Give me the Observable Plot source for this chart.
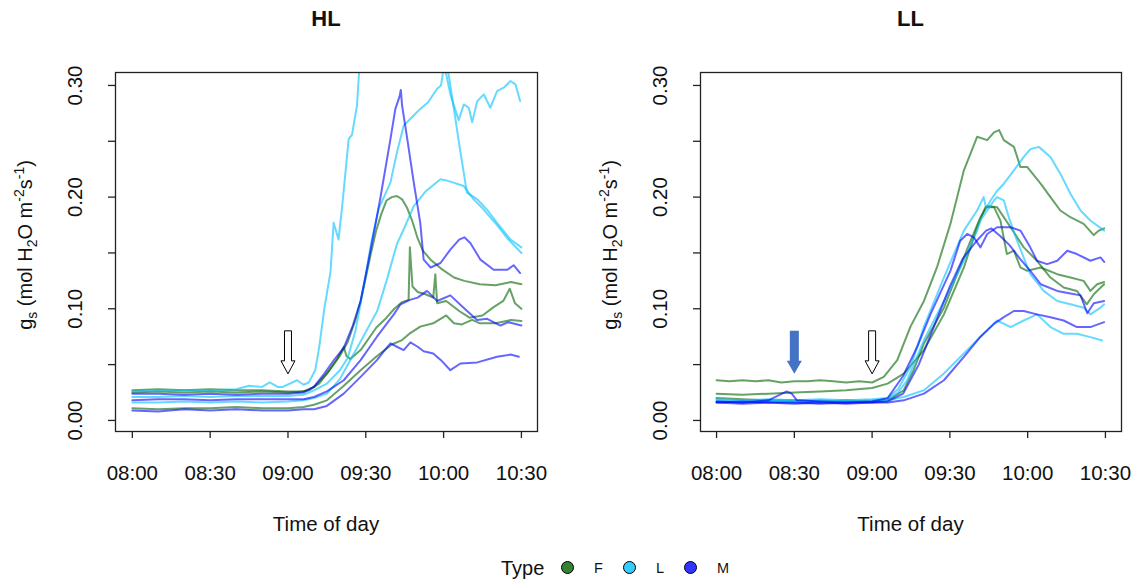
<!DOCTYPE html>
<html>
<head>
<meta charset="utf-8">
<script src="https://cdn.jsdelivr.net/npm/d3@7"></script>
<script src="https://cdn.jsdelivr.net/npm/@observablehq/plot@0.6"></script>
<style>
  html, body { margin: 0; padding: 0; background: #fff; }
  #wrap { position: relative; width: 1138px; height: 580px; font-family: 'Liberation Sans', Arial, sans-serif; color: #111; overflow: hidden; }
  .abs { position: absolute; white-space: nowrap; }
  .title { font-weight: bold; font-size: 22px; text-align: center; }
  .ylab { font-size: 20px; transform: translate(-50%, -50%) rotate(-90deg); transform-origin: center; }
  .ylab sub, .ylab sup { font-size: 14px; line-height: 0; }
  .xlab { font-size: 20.5px; text-align: center; line-height: 20px; }
  .leg { font-size: 20px; line-height: 20px; }
  .legs { font-size: 14.5px; line-height: 15px; }
  .dotk { width: 11px; height: 11px; border-radius: 50%; border: 1.5px solid #000; }
</style>
</head>
<body>
<div id="wrap"></div>
<script>
// ---------------- data (minutes after 08:00, gs value) ----------------
const panels = ["HL", "LL"];
const types = ["F", "L", "M"];
const typeColors = ["#006400", "#00bfff", "#0000ff"];
const legendColors = ["#338333", "#33ccff", "#3333ff"];
const xTickLabels = ["08:00", "08:30", "09:00", "09:30", "10:00", "10:30"];
const yTickMarks = [0, 0.05, 0.10, 0.15, 0.20, 0.25, 0.30];
const yTickLabels = [0, 0.10, 0.20, 0.30];

const HL_F1 = [[0,.027],[10,.028],[20,.027],[30,.028],[40,.027],[50,.027],[60,.026],[65,.026],[68,.027],[72,.033],[76,.045],[80,.058],[83,.07],[86,.09],[88,.107],[90,.128],[92,.15],[94,.17],[96,.185],[98,.197],[100,.2],[102,.201],[104,.198],[106,.19],[108,.178],[110,.163],[112,.152],[115,.144],[119,.136],[124,.128],[128,.125],[134,.122],[140,.121],[146,.124],[150,.122]];
const HL_F2 = [[0,.025],[10,.026],[20,.025],[30,.026],[40,.025],[50,.026],[60,.025],[66,.026],[70,.03],[75,.042],[79,.055],[81.5,.066],[82.5,.058],[84,.055],[88,.063],[94,.083],[98,.092],[101,.1],[104,.106],[106.5,.108],[107,.155],[108,.12],[110,.115],[113,.113],[116,.11],[116.8,.131],[117.5,.105],[121,.107],[126,.098],[130,.092],[135,.094],[139,.101],[143,.107],[145.5,.118],[147.5,.105],[150,.1]];
const HL_F3 = [[0,.011],[10,.01],[20,.011],[30,.011],[40,.012],[50,.011],[60,.011],[66,.012],[70,.014],[75,.018],[81,.03],[88,.045],[94,.057],[100,.068],[104,.072],[107,.078],[111,.084],[116,.087],[121,.094],[124,.087],[127,.086],[131,.09],[134,.087],[140,.087],[146,.09],[150,.089]];
const HL_L1 = [[0,.026],[10,.027],[20,.027],[30,.027],[40,.028],[45,.031],[50,.03],[53,.034],[56,.03],[58,.03],[63.5,.036],[66,.032],[68,.034],[70.5,.045],[72,.065],[74,.1],[76.4,.133],[77.6,.177],[78.5,.17],[79.5,.162],[80.9,.192],[83.4,.252],[84.7,.256],[86.6,.282],[87.5,.315],[90,.35],[100,.4],[110,.38],[118,.34],[120,.33],[122,.309],[126.5,.24],[129,.204],[133,.198],[137,.188],[140.6,.177],[145.8,.162],[150,.155]];
const HL_L2 = [[0,.021],[10,.021],[20,.022],[30,.021],[40,.022],[50,.022],[60,.022],[66,.023],[70,.027],[75,.033],[80,.045],[83,.056],[86,.08],[88,.105],[90,.13],[92,.158],[95,.19],[97,.2],[99.5,.213],[102,.24],[104.6,.264],[108,.272],[111,.279],[114,.285],[117.5,.297],[119,.3],[120,.315],[121,.31],[122.6,.292],[125.8,.269],[127.8,.283],[129.7,.28],[131,.267],[133,.286],[135.5,.292],[138,.28],[140.6,.295],[143.2,.298],[145.8,.304],[147.7,.301],[149.5,.286]];
const HL_L3 = [[0,.016],[10,.016],[20,.017],[30,.016],[40,.017],[50,.016],[60,.017],[66,.018],[70,.02],[75,.024],[80,.037],[84,.054],[89,.075],[94.4,.098],[98,.125],[102,.158],[104.6,.171],[108.5,.192],[113,.205],[118.8,.216],[121,.215],[123.8,.213],[127.7,.21],[131.6,.198],[135,.19],[140.6,.175],[145,.162],[150,.15]];
const HL_M1 = [[0,.024],[10,.024],[20,.023],[30,.024],[40,.023],[50,.024],[60,.024],[66,.025],[70,.03],[74,.042],[78,.055],[81.5,.065],[85,.085],[88,.107],[91.8,.152],[95.6,.199],[99.5,.252],[101.4,.279],[103,.29],[103.5,.296],[104,.282],[106,.252],[108.5,.213],[111,.177],[112.3,.144],[115,.137],[118.8,.141],[122.6,.153],[126,.162],[128,.164],[130.3,.159],[134.2,.144],[139.3,.135],[144.6,.135],[147,.139],[149.5,.132]];
const HL_M2 = [[0,.018],[10,.019],[20,.019],[30,.018],[40,.019],[50,.019],[60,.019],[66,.019],[70,.021],[75,.026],[81.5,.036],[88,.054],[94.3,.075],[100.8,.095],[103.4,.104],[107,.108],[110,.11],[113.6,.116],[117.5,.107],[122.6,.112],[127.7,.101],[132.9,.09],[136.8,.091],[141.9,.085],[145,.088],[150,.085]];
const HL_M3 = [[0,.009],[10,.008],[20,.01],[30,.009],[40,.01],[50,.009],[60,.009],[66,.01],[70,.01],[75,.013],[81.5,.024],[88,.039],[94.3,.054],[97,.062],[99.5,.069],[102,.066],[104.6,.063],[107.2,.07],[110,.066],[112.3,.062],[116,.06],[119,.054],[122.6,.045],[126.5,.051],[133,.052],[140.6,.057],[145.8,.059],[149,.057]];

const LL_F1 = [[0,.036],[5,.035],[10,.036],[15,.035],[20,.036],[25,.034],[30,.035],[35,.035],[40,.036],[45,.035],[50,.034],[55,.035],[60,.034],[64.5,.039],[69.7,.054],[74.8,.084],[80,.107],[85,.137],[90.2,.176],[95.4,.224],[100.5,.254],[104.4,.251],[107,.258],[109,.26],[110.8,.251],[114.7,.245],[117.2,.227],[119.8,.227],[125,.212],[128.8,.2],[132.6,.188],[136.5,.182],[141.6,.176],[145.5,.166],[147.5,.17],[149.5,.172]];
const LL_F2 = [[0,.024],[10,.023],[20,.024],[30,.025],[40,.026],[50,.027],[60,.029],[66,.033],[72.2,.042],[80,.063],[87.7,.095],[95.4,.137],[100.5,.173],[103.7,.191],[107,.191],[109.5,.179],[112,.149],[114.7,.152],[117.2,.137],[119.8,.134],[125,.137],[131.4,.131],[136.5,.128],[141.6,.125],[144.2,.116],[146.8,.122],[149.5,.124]];
const LL_F3 = [[0,.02],[10,.019],[20,.018],[30,.018],[40,.017],[50,.018],[60,.017],[66,.018],[72.2,.027],[76,.045],[80,.069],[87.7,.101],[92.8,.131],[98,.161],[101.8,.182],[104.4,.192],[108.2,.191],[113.4,.173],[118.5,.155],[123.6,.143],[128.8,.128],[133.9,.119],[139,.116],[142.8,.104],[145.5,.113],[149.5,.122]];
const LL_L1 = [[0,.019],[10,.018],[20,.019],[30,.018],[40,.019],[50,.018],[60,.019],[66,.02],[70,.028],[74.8,.048],[80,.084],[87.7,.128],[95.4,.17],[100.5,.188],[103,.2],[104,.19],[105.7,.197],[108,.205],[110.8,.212],[114.7,.224],[118.5,.236],[121.1,.243],[124.3,.245],[128.8,.236],[132.6,.221],[136.5,.203],[140.4,.188],[144.2,.179],[149.5,.17]];
const LL_L2 = [[0,.018],[10,.017],[20,.018],[30,.017],[40,.018],[50,.017],[60,.018],[66,.019],[70,.025],[73.5,.036],[80,.072],[87.7,.107],[95.4,.143],[100.5,.17],[102,.18],[104.4,.188],[107,.197],[108.2,.2],[110.8,.197],[113,.18],[115.9,.161],[121,.131],[126.2,.116],[131.4,.107],[136.5,.104],[141.6,.101],[144.2,.095],[148.1,.101],[149.5,.104]];
const LL_L3 = [[0,.017],[10,.016],[20,.017],[30,.016],[40,.017],[50,.016],[60,.017],[66,.018],[72.2,.021],[80,.027],[87.7,.042],[95.4,.06],[101.8,.075],[108.2,.0895],[113.4,.0836],[118.5,.0895],[123.6,.095],[128.8,.0836],[133.9,.0776],[139,.0776],[144.2,.0746],[148.7,.0716]];
const LL_M1 = [[0,.017],[10,.016],[20,.018],[27,.026],[29,.024],[31,.018],[40,.017],[50,.016],[60,.017],[66,.02],[72,.04],[77.4,.066],[82.5,.095],[90.2,.134],[94,.161],[96.7,.167],[99.2,.164],[101.8,.155],[104.4,.167],[108.2,.173],[113.4,.173],[117.2,.17],[121,.155],[123.6,.143],[127.5,.14],[131.4,.143],[135.3,.152],[139,.149],[144.2,.143],[148.1,.146],[149.5,.142]];
const LL_M2 = [[0,.016],[10,.017],[20,.016],[30,.016],[40,.015],[50,.016],[60,.016],[66,.017],[72,.024],[78,.05],[84,.085],[90,.12],[95,.145],[100,.16],[104,.17],[106,.172],[109.5,.165],[113,.157],[117,.145],[121,.134],[125,.122],[131.4,.116],[136,.114],[140.4,.112],[143,.096],[145.5,.105],[149.5,.107]];
const LL_M3 = [[0,.016],[10,.015],[20,.016],[30,.015],[40,.016],[50,.015],[60,.016],[66,.016],[72.2,.018],[80,.024],[87.7,.036],[95.4,.057],[101.8,.075],[107,.0865],[110.8,.0925],[114.7,.098],[118.5,.098],[123.6,.095],[128.8,.0925],[133.9,.0895],[139,.0836],[144.2,.0836],[149.5,.088]];

// arrows: panel, minute after 08:00, kind
const arrowPanels = ["HL", "LL", "LL"];
const arrowMinutes = [60, 30, 60];
const arrowKinds = ["open", "filled", "open"];
const arrowLevel = 0.061;

// ---------------- build ----------------
const T = m => new Date(Date.UTC(2020, 0, 1, 8, 0) + m * 60000);
const xTicks = xTickLabels.map(s => { const [h, mm] = s.split(":").map(Number); return T((h - 8) * 60 + mm); });

const series = [
  ["HL","F","HL_F1",HL_F1],["HL","F","HL_F2",HL_F2],["HL","F","HL_F3",HL_F3],
  ["HL","L","HL_L1",HL_L1],["HL","L","HL_L2",HL_L2],["HL","L","HL_L3",HL_L3],
  ["HL","M","HL_M1",HL_M1],["HL","M","HL_M2",HL_M2],["HL","M","HL_M3",HL_M3],
  ["LL","F","LL_F1",LL_F1],["LL","F","LL_F2",LL_F2],["LL","F","LL_F3",LL_F3],
  ["LL","L","LL_L1",LL_L1],["LL","L","LL_L2",LL_L2],["LL","L","LL_L3",LL_L3],
  ["LL","M","LL_M1",LL_M1],["LL","M","LL_M2",LL_M2],["LL","M","LL_M3",LL_M3]
];
const rows = series.flatMap(([panel, type, id, pts]) => pts.map(([m, v]) => ({panel, type, id, t: T(m), v})));
const arrows = arrowPanels.map((p, i) => ({panel: p, t: T(arrowMinutes[i]), kind: arrowKinds[i], v: arrowLevel}));

function arrowSymbol(sw, hw) {
  return { draw(ctx) {
    ctx.moveTo(-sw, -21.5); ctx.lineTo(sw, -21.5); ctx.lineTo(sw, 8.5); ctx.lineTo(hw, 8.5);
    ctx.lineTo(0, 21.5); ctx.lineTo(-hw, 8.5); ctx.lineTo(-sw, 8.5); ctx.closePath();
  }};
}
const openArrow = arrowSymbol(3.5, 7);
const filledArrow = arrowSymbol(4.5, 7.5);

const geom = {
  HL: {left: 0, marginLeft: 115, marginRight: 32, xdom: [-6.5, 156.2]},
  LL: {left: 569, marginLeft: 131, marginRight: 17, xdom: [-6.2, 156.2]}
};

const wrap = document.getElementById("wrap");
function addDiv(cls, style, html) {
  const d = document.createElement("div");
  d.className = "abs " + cls;
  Object.assign(d.style, style);
  d.innerHTML = html;
  wrap.appendChild(d);
  return d;
}

for (const p of panels) {
  const g = geom[p];
  const data = rows.filter(r => r.panel === p);
  const arr = arrows.filter(a => a.panel === p);
  const chart = Plot.plot({
    width: 569, height: 545,
    marginTop: 72, marginBottom: 114, marginLeft: g.marginLeft, marginRight: g.marginRight,
    style: {fontFamily: "'Liberation Sans', Arial, sans-serif", fontSize: "20.5px", background: "transparent", overflow: "visible", color: "#111"},
    x: {type: "utc", domain: g.xdom.map(T)},
    y: {domain: [-0.0099, 0.3116]},
    color: {domain: types, range: typeColors},
    marks: [
      Plot.line(data, {x: "t", y: "v", z: "id", stroke: "type", strokeWidth: 2, strokeOpacity: 0.6, clip: true, curve: "linear"}),
      Plot.dot(arr.filter(a => a.kind === "open"), {x: "t", y: "v", symbol: openArrow, r: 5, fill: "white", stroke: "black", strokeWidth: 1}),
      Plot.dot(arr.filter(a => a.kind === "filled"), {x: "t", y: "v", symbol: filledArrow, r: 5, fill: "#4472c4", stroke: "none"}),
      Plot.frame({stroke: "#222", strokeWidth: 1.3}),
      Plot.axisX({ticks: xTicks, tickSize: 7, tickPadding: 27, tickFormat: d3.utcFormat("%H:%M"), label: null, stroke: "#222", strokeWidth: 1.3}),
      Plot.axisY({ticks: yTickMarks, tickSize: 7, tickFormat: () => "", label: null, stroke: "#222", strokeWidth: 1.3}),
      Plot.text(yTickLabels, {y: d => d, text: d => d.toFixed(2), frameAnchor: "left", dx: -40, rotate: -90, textAnchor: "middle", lineAnchor: "middle", fill: "#111"})
    ]
  });
  const holder = document.createElement("div");
  holder.className = "abs";
  holder.style.left = g.left + "px";
  holder.style.top = "0px";
  holder.appendChild(chart);
  wrap.appendChild(holder);

  const fx0 = g.left + g.marginLeft, fx1 = g.left + 569 - g.marginRight;
  addDiv("title", {left: fx0 + "px", width: (fx1 - fx0) + "px", top: "6px"}, p);
  addDiv("xlab", {left: fx0 + "px", width: (fx1 - fx0) + "px", top: "514px"}, "Time of day");
  addDiv("ylab", {left: (g.left + g.marginLeft - 90) + "px", top: "245px"}, "g<sub>s</sub> (mol H<sub>2</sub>O m<sup>-2</sup>s<sup>-1</sup>)");
}

// legend
addDiv("leg", {left: "501px", top: "558px"}, "Type");
const legX = [568, 630, 691];
types.forEach((t, i) => {
  addDiv("dotk", {left: (legX[i] - 7) + "px", top: "561px", background: legendColors[i]}, "");
  addDiv("legs", {left: (legX[i] + 26) + "px", top: "561px"}, t);
});
</script>
</body>
</html>
